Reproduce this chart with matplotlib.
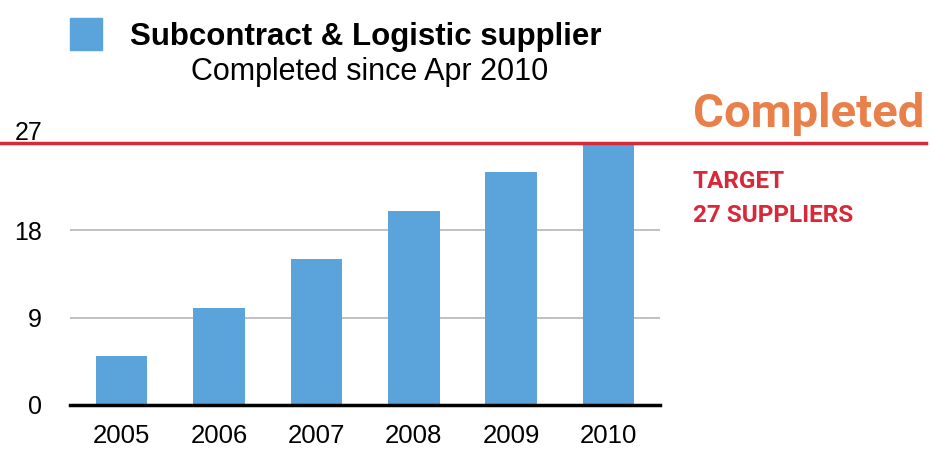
import matplotlib.pyplot as plt
import matplotlib.transforms as mtransforms
from matplotlib.patches import Rectangle

# Data
years = ['2005', '2006', '2007', '2008', '2009', '2010']
suppliers = [5, 10, 15, 20, 24, 27]
yticks = [0, 9, 18, 27]
target = 27

bar_color = '#5ba3db'
red = '#d8283a'
orange = '#e9804a'

plt.rcParams['font.family'] = ['Liberation Sans', 'DejaVu Sans']

fig = plt.figure(figsize=(9.31, 4.49), dpi=100)
ax = fig.add_axes([0.0752, 0.098, 0.634, 0.5835])

x = range(len(years))
ax.bar(x, suppliers, width=0.53, color=bar_color, zorder=2)

ax.set_xlim(-0.53, len(years) - 0.47)
ax.set_ylim(0, target)
ax.set_yticks(yticks)
ax.set_yticklabels([str(v) for v in yticks], fontsize=18)
ax.set_xticks(list(x))
ax.set_xticklabels(years, fontsize=18.5)
ax.tick_params(axis='y', length=0, pad=20)
ax.tick_params(axis='x', length=0, pad=14)

# nudge the "27" label above the target line
lab27 = ax.get_yticklabels()[-1]
lab27.set_transform(lab27.get_transform() + mtransforms.ScaledTranslation(0, 9 / 72, fig.dpi_scale_trans))

for v in yticks[1:-1]:
    ax.axhline(v, color='#b5b5b5', linewidth=1.2, zorder=1)

for s in ['top', 'right', 'left']:
    ax.spines[s].set_visible(False)
ax.spines['bottom'].set_linewidth(2.5)
ax.spines['bottom'].set_color('black')
ax.spines['bottom'].set_zorder(3)

# target line spanning the full figure width
trans = mtransforms.blended_transform_factory(fig.transFigure, ax.transData)
ax.plot([0, 0.995], [target, target], color=red, linewidth=2.5, transform=trans, clip_on=False, zorder=4)

# annotations on the right
fig.text(0.744, 0.745, 'Completed', color=orange, fontsize=34, fontweight='bold',
         family='Roboto', va='center', ha='left')
fig.text(0.744, 0.595, 'TARGET', color=red, fontsize=17.5, fontweight='bold',
         family='Roboto', va='center', ha='left')
fig.text(0.744, 0.521, '27 SUPPLIERS', color=red, fontsize=17.5, fontweight='bold',
         family='Roboto', va='center', ha='left')

# legend-like header
fig.patches.append(Rectangle((0.0752, 0.888), 0.034, 0.073, color=bar_color,
                             transform=fig.transFigure, figure=fig))
fig.text(0.14, 0.918, 'Subcontract & Logistic supplier', fontsize=22.5, fontweight='bold',
         va='center', ha='left')
fig.text(0.397, 0.84, 'Completed since Apr 2010', fontsize=22, va='center', ha='center')

plt.savefig('out.png', dpi=100)
